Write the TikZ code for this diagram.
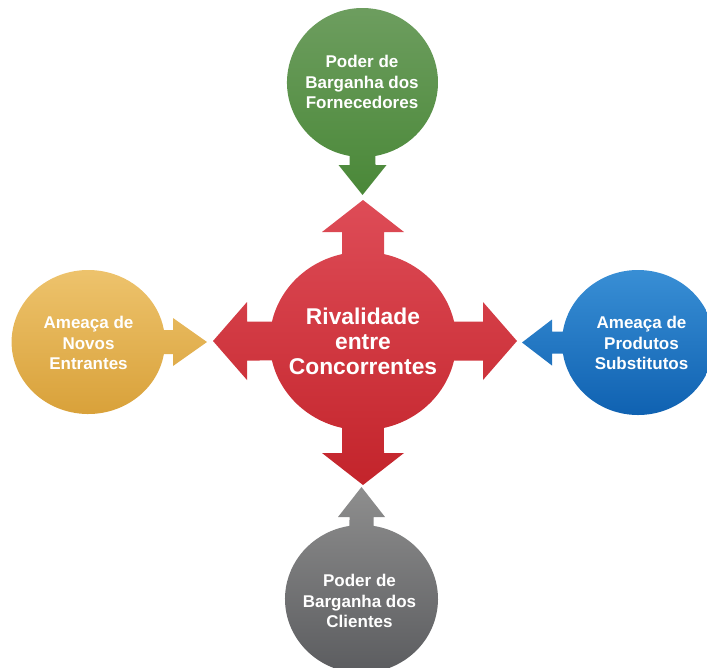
\documentclass[tikz,border=0pt]{standalone}
\usepackage{fontspec}
\setmainfont{Liberation Sans}
\usepackage{tikz}
\definecolor{rivaltop}{HTML}{DE4C57}
\definecolor{rivalbot}{HTML}{C3242B}
\definecolor{fornectop}{HTML}{6E9E60}
\definecolor{fornecbot}{HTML}{4A8838}
\definecolor{entrtop}{HTML}{EEC46E}
\definecolor{entrbot}{HTML}{D8A038}
\definecolor{substop}{HTML}{3A90D6}
\definecolor{subsbot}{HTML}{0E60B0}
\definecolor{clientop}{HTML}{8E8E8E}
\definecolor{clienbot}{HTML}{5A5B5E}

\begin{document}
\begin{tikzpicture}[x=1pt,y=-1pt,
    forcetext/.style={text=white, font=\bfseries\fontsize{17}{20.5}\selectfont, align=center, inner sep=0pt},
    rivaltext/.style={text=white, font=\bfseries\fontsize{22.8}{25}\selectfont, align=center, inner sep=0pt}]

        % Page frame
        \useasboundingbox (0,0) rectangle (707,667);
        \clip (0,0) rectangle (707,667);

        % Rivalidade (centre circle with four arrows)
        \shade[top color=rivaltop, bottom color=rivalbot]
        (454.0,360.5) arc[start angle=12.63, end angle=77, x radius=93.3, y radius=89.2]
        --(384,453)--(404,453)--(363,485)--(322,453)--(342,453)
        --(342,427.9) arc[start angle=103, end angle=167.37, x radius=93.3, y radius=89.2]
        --(247,360.5)--(247,380)--(213,341)--(247,302)--(247,321.5)
        --(272.0,321.5) arc[start angle=192.63, end angle=257, x radius=93.3, y radius=89.2]
        --(342,232)--(322,232)--(363,200)--(404,232)--(384,232)
        --(384,254.1) arc[start angle=283, end angle=347.37, x radius=93.3, y radius=89.2]
        --(483,321.5)--(483,302)--(517,341)--(483,380)--(483,360.5)--cycle;
        \node[rivaltext] (rival) at (363,341) {Rivalidade\\entre\\Concorrentes};

        % Fornecedores (top, arrow down)
        \shade[top color=fornectop, bottom color=fornecbot]
        (349.5,155.9) arc[start angle=99.9, end angle=440.1, x radius=75.5, y radius=74.5]
        --(375.5,165)--(386.5,165)--(362.5,195)--(338.5,165)--(349.5,165)--cycle;
        \node[forcetext] (fornec) at (362,82) {Poder de\\Barganha dos\\Fornecedores};

        % Novos entrantes (left, arrow right)
        \shade[top color=entrtop, bottom color=entrbot]
        (163.9,354) arc[start angle=9.59, end angle=350.41, x radius=76.7, y radius=72]
        --(173,330)--(173,318)--(207,342)--(173,366)--(173,354)--cycle;
        \node[forcetext] (entrantes) at (88.5,343) {Ameaça de\\Novos\\Entrantes};

        % Produtos substitutos (right, arrow left)
        \shade[top color=substop, bottom color=subsbot]
        (562.9,331.5) arc[start angle=188.73, end angle=531.27, x radius=76, y radius=72.5]
        --(552,353.5)--(552,365.5)--(522,342.5)--(552,319.5)--(552,331.5)--cycle;
        \node[forcetext] (substitutos) at (641.5,343) {Ameaça de\\Produtos\\Substitutos};

        % Clientes (bottom, arrow up)
        \shade[top color=clientop, bottom color=clienbot]
        (373.5,525.9) arc[start angle=279.03, end angle=620.97, x radius=76.5, y radius=74]
        --(349.5,517)--(338,517)--(361.5,487)--(385,517)--(373.5,517)--cycle;
        \node[forcetext] (clientes) at (359.5,601) {Poder de\\Barganha dos\\Clientes};

\end{tikzpicture}
\end{document}
